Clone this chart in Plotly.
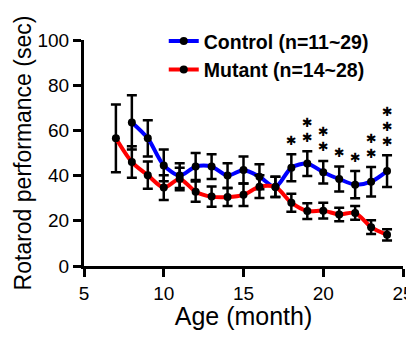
import plotly.graph_objects as go

months_ctrl = [8, 9, 10, 11, 12, 13, 14, 15, 16, 17, 18, 19, 20, 21, 22, 23, 24]
ctrl_mean = [63.5, 56.5, 44.5, 40, 44, 44, 40, 42.5, 39.5, 35, 43.5, 45.3, 41.5, 38.5, 36, 37.3, 42]
ctrl_err = [12, 8, 7, 5.5, 6, 5.5, 5.5, 6, 5.5, 4.5, 6, 5.5, 5, 5.5, 6, 6.5, 7]

months_mut = [7, 8, 9, 10, 11, 12, 13, 14, 15, 16, 17, 18, 19, 20, 21, 22, 23, 24]
mut_mean = [56.5, 46, 40.2, 34.7, 38.5, 32.9, 30.7, 30.5, 31.5, 35.1, 35, 28, 24.3, 24.5, 22.8, 23.5, 17.2, 13.8]
mut_err = [15, 7, 6, 5.5, 5, 4.5, 4.5, 4, 5, 5, 4.5, 4, 3.5, 3.5, 3, 3, 3, 2.5]

sig_counts = {18: 1, 19: 2, 20: 2, 21: 1, 22: 1, 23: 2, 24: 3}

FONT = "Liberation Sans, Arial, sans-serif"

fig = go.Figure()
fig.add_trace(go.Scatter(
    x=months_ctrl, y=ctrl_mean, name="<b>Control (n=11~29)</b>",
    mode="lines+markers", line=dict(color="#0000FF", width=4, shape="spline", smoothing=0.8),
    marker=dict(color="black", size=8),
    error_y=dict(type="data", array=ctrl_err, color="black", thickness=2.5, width=5),
))
fig.add_trace(go.Scatter(
    x=months_mut, y=mut_mean, name="<b>Mutant (n=14~28)</b>",
    mode="lines+markers", line=dict(color="#FF0000", width=4, shape="spline", smoothing=0.8),
    marker=dict(color="black", size=8),
    error_y=dict(type="data", array=mut_err, color="black", thickness=2.5, width=5),
))

for m, n in sig_counts.items():
    i = months_ctrl.index(m)
    top = ctrl_mean[i] + ctrl_err[i]
    for k in range(n):
        fig.add_annotation(x=m, y=top, text="✱", showarrow=False, yanchor="middle",
                           yshift=14 + 15 * k, borderpad=0,
                           font=dict(family="DejaVu Sans", size=12.8, color="black"))

# page body adds an 8px offset; figure is sized so the page does not overflow the window
fig.update_layout(
    width=406, height=322,
    margin=dict(l=76, r=11, t=32, b=64),
    plot_bgcolor="white", paper_bgcolor="white",
    font=dict(family=FONT, color="black"),
    showlegend=True,
    legend=dict(x=0.25, y=1.08, xanchor="left", yanchor="top",
                bgcolor="rgba(0,0,0,0)", font=dict(size=19.5, family=FONT),
                tracegroupgap=0, itemwidth=30),
)
fig.update_xaxes(range=[5, 25], tickvals=[5, 10, 15, 20, 25], showgrid=False, zeroline=False,
                 showline=True, linecolor="black", linewidth=3, ticks="outside", automargin=False,
                 ticklen=8, tickwidth=3, tickcolor="black", ticklabeloverflow="allow",
                 tickfont=dict(size=19, family=FONT),
                 title=dict(text="Age (month)", font=dict(size=25, family=FONT), standoff=10))
fig.update_yaxes(range=[0, 100], tickvals=[0, 20, 40, 60, 80, 100], showgrid=False, zeroline=False,
                 showline=True, linecolor="black", linewidth=3, ticks="outside", automargin=False,
                 ticklen=8, tickwidth=3, tickcolor="black",
                 tickfont=dict(size=19, family=FONT),
                 title=dict(text="Rotarod performance (sec)", font=dict(size=23, family=FONT), standoff=0))
fig.update_xaxes(tickprefix="<b>", ticksuffix="</b>")
fig.update_yaxes(tickprefix="<b>", ticksuffix="</b>")

fig.write_html("out.html")
